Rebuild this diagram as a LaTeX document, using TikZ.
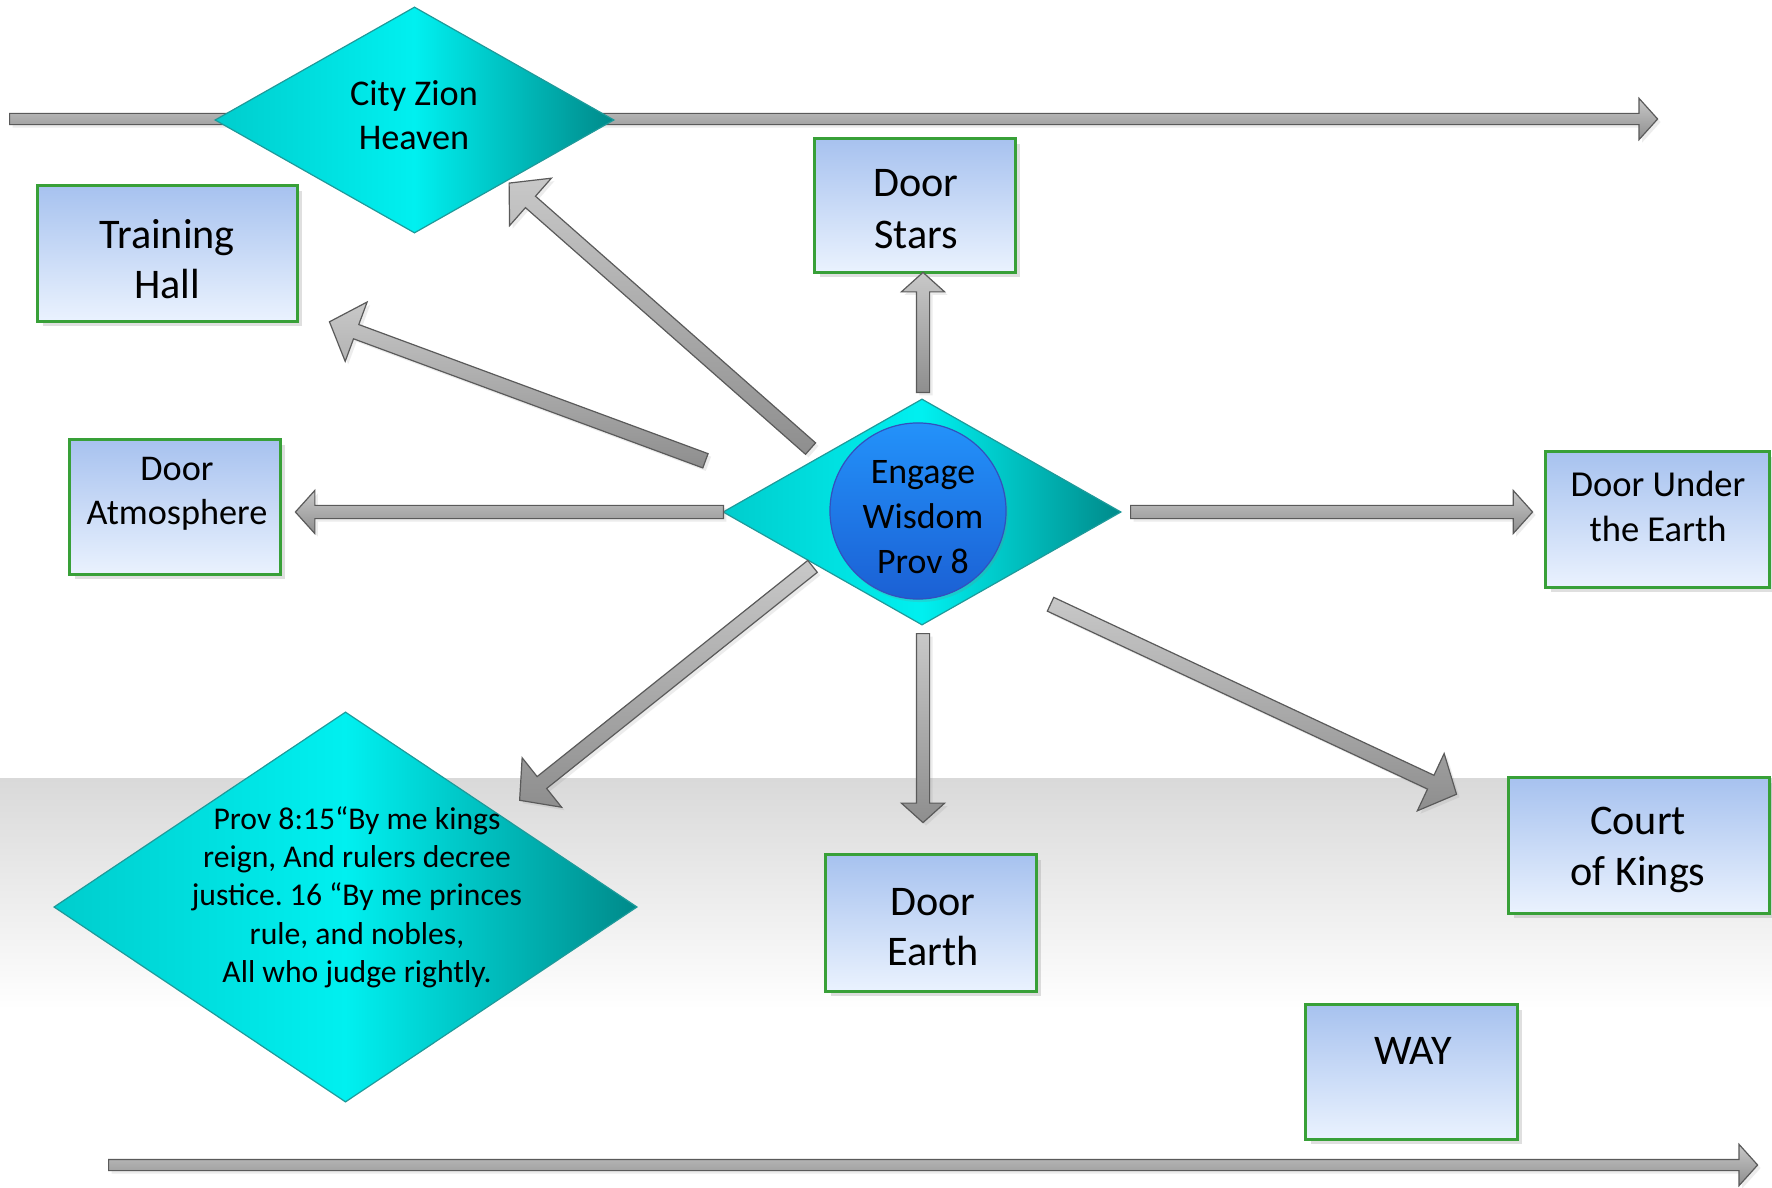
\documentclass[tikz,border=0pt]{standalone}
\usepackage{fontspec}
\setmainfont{Carlito}
\frenchspacing
\usetikzlibrary{shapes.geometric,shapes.arrows,shadows,calc}
\definecolor{boxtop}{HTML}{A7C2EF}
\definecolor{boxbot}{HTML}{EAF2FE}
\definecolor{boxedge}{HTML}{38A038}
\definecolor{cyanL}{HTML}{00CDCD}
\definecolor{cyanM}{HTML}{00F0F0}
\definecolor{cyanR}{HTML}{008A8A}
\definecolor{diamedge}{HTML}{1E9A9A}
\definecolor{arrowL}{HTML}{C8C8C8}
\definecolor{arrowD}{HTML}{8E8E8E}
\definecolor{arrowedge}{HTML}{5A5A5A}
\definecolor{ballT}{HTML}{2392FA}
\definecolor{ballB}{HTML}{1B60D4}
\definecolor{balledge}{HTML}{3350BE}
\definecolor{bandtop}{HTML}{D9D9D9}
\newcommand\blockarrow[4]{%
  \path let \p1=(#2), \p2=(#3),
    \n1={atan2(\y2-\y1,\x2-\x1)}, \n2={veclen(\x2-\x1,\y2-\y1)} in
    node[barrow,#1,rotate=\n1,minimum height=\n2] (#4) at (\p1) {};}
\tikzset{
  x=0.01cm, y=-0.01cm,
  box/.style={rectangle, draw=boxedge, line width=0.03cm, top color=boxtop,
    bottom color=boxbot, inner sep=0,
    drop shadow={shadow xshift=0.05cm, shadow yshift=-0.05cm, opacity=0.25}},
  diam/.style={diamond, draw=diamedge, line width=0.012cm, left color=cyanL,
    right color=cyanR, middle color=cyanM, inner sep=0},
  barrow/.style={single arrow, draw=arrowedge, line width=0.012cm,
    top color=arrowL, bottom color=arrowD, single arrow tip angle=96,
    single arrow head indent=0pt, inner xsep=0pt, anchor=tail,
    drop shadow={shadow xshift=0.03cm, shadow yshift=-0.03cm, opacity=0.15}},
  hv/.style={inner ysep=0.06cm, single arrow head extend=0.15cm},
  dg/.style={inner ysep=0.07cm, single arrow head extend=0.24cm},
  lg/.style={inner ysep=0.05cm, single arrow head extend=0.15cm},
  bigtxt/.style={align=center, font=\fontsize{12}{14.4}\selectfont},
  midtxt/.style={align=center, font=\fontsize{10.3}{12.6}\selectfont},
  provtxt/.style={align=center, font=\fontsize{9}{10.9}\selectfont},
}
\begin{document}
\begin{tikzpicture}
\useasboundingbox (0,0) rectangle (1772,1188);
\fill[white] (0,0) rectangle (1772,1188);
\shade[top color=bandtop, bottom color=white] (0,778) rectangle (1772,1010);

% long arrows
\coordinate (topT) at (9,119);
\coordinate (topH) at (1657,119);
\coordinate (botT) at (108,1165);
\coordinate (botH) at (1757,1165);
\blockarrow{lg}{topT}{topH}{toparrow}
\blockarrow{lg}{botT}{botH}{botarrow}

% diamonds
\node[diam, minimum width=3.99cm, minimum height=2.26cm] (zion) at (414.5,120) {};
\node[midtxt] (ziontxt) at (414,115) {City Zion\\Heaven};
\node[diam, minimum width=3.98cm, minimum height=2.26cm] (wis) at (922,512) {};
\node[diam, minimum width=5.83cm, minimum height=3.90cm] (prov) at (345.5,907) {};
\node[provtxt] (provt) at (357,897) {Prov 8:15“By me kings\\reign, And rulers decree\\justice. 16 “By me princes\\rule, and nobles,\\All who judge rightly.};

% circle
\node[circle, minimum size=1.76cm, draw=balledge, line width=0.012cm, top color=ballT,
  bottom color=ballB, inner sep=0,
  drop shadow={shadow xshift=0.02cm, shadow yshift=-0.03cm, opacity=0.2}] (ball) at (918,511) {};
\node[align=center, font=\fontsize{10.2}{12.8}\selectfont] (balltxt) at (923,517) {Engage\\Wisdom\\Prov 8};

% boxes
\node[box, minimum width=2.59cm, minimum height=1.35cm] (train) at (167.5,253.5) {};
\node[bigtxt] (traint) at (167,259) {Training\\Hall};
\node[box, minimum width=2.00cm, minimum height=1.33cm] (stars) at (915,205.5) {};
\node[bigtxt, font=\fontsize{12}{14.8}\selectfont] (starst) at (916,209) {Door\\Stars};
\node[box, minimum width=2.10cm, minimum height=1.34cm] (atmo) at (175,507) {};
\node[midtxt] (atmot) at (177,494) {Door\\Atmosphere};
\node[box, minimum width=2.23cm, minimum height=1.35cm] (under) at (1657.5,519.5) {};
\node[midtxt, font=\fontsize{10.4}{12.8}\selectfont] (undert) at (1658,506) {Door Under\\the Earth};
\node[box, minimum width=2.60cm, minimum height=1.35cm] (court) at (1639,845.5) {};
\node[bigtxt] (courtt) at (1638,850) {Court\\of Kings};
\node[box, minimum width=2.10cm, minimum height=1.36cm] (earth) at (931,923) {};
\node[bigtxt] (eartht) at (933,927) {Door\\Earth};
\node[box, minimum width=2.11cm, minimum height=1.34cm] (way) at (1411.5,1072) {};
\node[bigtxt] (wayt) at (1413,1051) {WAY};

% radiating arrows
\coordinate (a1t) at (811,449);  \coordinate (a1h) at (509,183);
\coordinate (a2t) at (706,461);  \coordinate (a2h) at (330,322);
\coordinate (a3t) at (923,393);  \coordinate (a3h) at (923,273);
\coordinate (a4t) at (724,512);  \coordinate (a4h) at (296,512);
\coordinate (a5t) at (1130,512); \coordinate (a5h) at (1532,512);
\coordinate (a6t) at (813,566);  \coordinate (a6h) at (520,800);
\coordinate (a7t) at (923,633);  \coordinate (a7h) at (923,822);
\coordinate (a8t) at (1050,604); \coordinate (a8h) at (1456,794);
\blockarrow{dg}{a1t}{a1h}{arZion}
\blockarrow{dg}{a2t}{a2h}{arTrain}
\blockarrow{hv}{a3t}{a3h}{arStars}
\blockarrow{hv}{a4t}{a4h}{arAtmo}
\blockarrow{hv}{a5t}{a5h}{arUnder}
\blockarrow{dg}{a6t}{a6h}{arProv}
\blockarrow{hv}{a7t}{a7h}{arEarth}
\blockarrow{dg}{a8t}{a8h}{arCourt}
\end{tikzpicture}
\end{document}
